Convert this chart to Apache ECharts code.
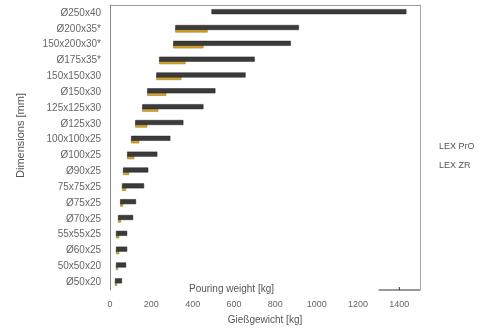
<!DOCTYPE html>
<html>
<head>
<meta charset="utf-8">
<script src="https://cdn.jsdelivr.net/npm/echarts@6/dist/echarts.min.js"></script>
<style>
  html, body { margin: 0; padding: 0; background: #fff; }
  #chart { width: 495px; height: 330px; }
</style>
</head>
<body>
<div id="chart"></div>
<script>
// Riser dimensions, top to bottom
const categories = [
  'Ø250x40', 'Ø200x35*', '150x200x30*', 'Ø175x35*', '150x150x30', 'Ø150x30',
  '125x125x30', 'Ø125x30', '100x100x25', 'Ø100x25', 'Ø90x25', '75x75x25',
  'Ø75x25', 'Ø70x25', '55x55x25', 'Ø60x25', '50x50x20', 'Ø50x20'
];
// Lower end of each pouring-weight range [kg]
const rangeStart = [491, 316, 306, 238, 224, 180, 156, 122, 102, 83, 63, 58, 49, 39, 29, 29, 29, 24];
// Upper end for LEX PrO [kg]
const proEnd = [1434, 914, 875, 700, 656, 510, 452, 355, 292, 229, 185, 165, 126, 112, 83, 83, 78, 58];
// Upper end for LEX ZR [kg]
const zrEnd = [null, 472, 452, 365, 345, 272, 233, 180, 141, 117, 92, 78, 63, 53, 44, 44, 39, 34];
// Pouring weight axis
const xMin = 0, xMax = 1500, xStep = 200;

const textColor = '#666';
const font = 'Liberation Sans, Arial, sans-serif';

const chart = echarts.init(document.getElementById('chart'), null, { renderer: 'canvas' });

const span = (ends) => ends.map((v, i) => (v == null ? null : v - rangeStart[i]));

chart.setOption({
  animation: false,
  backgroundColor: '#fff',
  textStyle: { fontFamily: font },
  grid: { left: 110, right: 75, top: 5, bottom: 40 },
  title: {
    text: 'Pouring weight [kg]',
    left: 184, top: 279,
    textStyle: { fontSize: 10, fontWeight: 'normal', color: '#555', fontFamily: font }
  },
  legend: {
    data: ['LEX PrO', 'LEX ZR'],
    orient: 'vertical',
    left: 428, top: 137,
    itemWidth: 0, itemHeight: 0, itemGap: 10,
    textStyle: { fontSize: 9, color: '#555', fontFamily: font }
  },
  xAxis: [{
    type: 'value', min: xMin, max: xMax, interval: xStep,
    name: 'Gießgewicht [kg]', nameLocation: 'middle', nameGap: 25,
    nameTextStyle: { fontSize: 10, color: '#555' },
    axisLine: { show: false }, axisTick: { show: false }, splitLine: { show: false },
    axisLabel: { fontSize: 9, color: textColor, margin: 10, showMaxLabel: false,
                 formatter: (v) => String(v) }
  }, {
    type: 'value', min: xMin, max: xMax, position: 'top',
    axisLine: { show: true, lineStyle: { color: '#999', width: 1 } },
    axisTick: { show: false }, axisLabel: { show: false }, splitLine: { show: false }
  }],
  yAxis: [{
    type: 'category', data: categories, inverse: true,
    name: 'Dimensions [mm]', nameLocation: 'middle', nameGap: 84,
    nameTextStyle: { fontSize: 11, color: '#555', padding: [0, 0, 0, 24] },
    axisLine: { lineStyle: { color: '#888', width: 1 } },
    axisTick: { inside: true, length: 3, lineStyle: { color: '#888' } },
    axisLabel: { fontSize: 10, color: textColor, margin: 9 }
  }, {
    type: 'value', position: 'right', min: 0, max: 1,
    axisLine: { show: true, onZero: false, lineStyle: { color: '#aaa', width: 1 } },
    axisTick: { show: false }, axisLabel: { show: false }, splitLine: { show: false }
  }],
  series: [
    {
      name: 'proBase', type: 'bar', stack: 'pro', data: rangeStart,
      barWidth: 5, barGap: '-30%', silent: true,
      itemStyle: { color: 'transparent' }
    },
    {
      name: 'LEX PrO', type: 'bar', stack: 'pro', data: span(proEnd),
      barWidth: 5, z: 3,
      itemStyle: { color: '#3b3b3b', borderColor: '#222', borderWidth: 0.5 }
    },
    {
      name: 'zrBase', type: 'bar', stack: 'zr', data: rangeStart,
      barWidth: 4, silent: true,
      itemStyle: { color: 'transparent' }
    },
    {
      name: 'LEX ZR', type: 'bar', stack: 'zr', data: span(zrEnd),
      barWidth: 4, z: 2,
      itemStyle: { color: '#d6a62a', borderColor: '#8c6c1c', borderWidth: 0.5 }
    }
  ]
});

// Short bottom axis segment with its 1400 tick
const gridRect = chart.getModel().getComponent('grid').coordinateSystem.getRect();
const yb = gridRect.y + gridRect.height;
const x1 = chart.convertToPixel({ xAxisIndex: 0 }, 1300);
const x2 = chart.convertToPixel({ xAxisIndex: 0 }, xMax);
const xt = chart.convertToPixel({ xAxisIndex: 0 }, 1400);
chart.setOption({
  graphic: [
    { type: 'line', shape: { x1: x1, y1: yb, x2: x2, y2: yb }, style: { stroke: '#333', lineWidth: 1 } },
    { type: 'line', shape: { x1: xt, y1: yb, x2: xt, y2: yb - 3 }, style: { stroke: '#333', lineWidth: 1 } }
  ]
});
</script>
</body>
</html>
